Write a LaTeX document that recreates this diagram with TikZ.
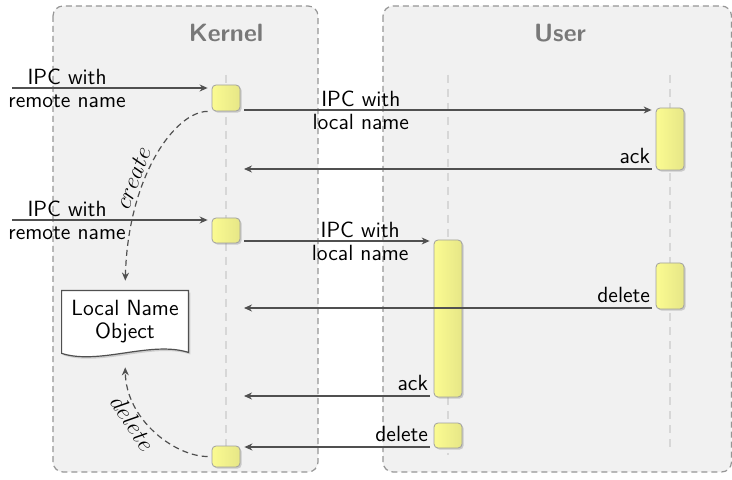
\documentclass[tikz,border=0pt]{standalone}
\usetikzlibrary{arrows.meta,shadows,calc}
\definecolor{lanefill}{RGB}{241,241,241}
\definecolor{laneline}{RGB}{150,150,150}
\definecolor{lanetitle}{RGB}{120,120,120}
\definecolor{lifeline}{RGB}{215,215,215}
\definecolor{msgline}{RGB}{80,80,80}
\definecolor{actleft}{RGB}{251,251,145}
\definecolor{actright}{RGB}{230,230,135}
\definecolor{actborder}{RGB}{160,160,160}
\pgfdeclarelayer{lanes}
\pgfdeclarelayer{docs}
\pgfsetlayers{lanes,docs,main}
\begin{document}
\begin{tikzpicture}[x=0.5pt,y=0.5pt,
  font=\sffamily\fontsize{11}{11.5}\selectfont,
  lane/.style={fill=lanefill, draw=laneline, dash pattern=on 3pt off 2pt,
    line width=0.6pt, rounded corners=5pt},
  lanetitle/.style={font=\sffamily\bfseries\fontsize{12.5}{14}\selectfont,
    text=lanetitle},
  lifeline/.style={draw=lifeline, line width=0.8pt, dash pattern=on 4pt off 3pt},
  act/.style={draw=actborder, line width=0.4pt, rounded corners=2pt,
    left color=actleft, right color=actright, minimum width=14pt, inner sep=0pt,
    drop shadow={shadow xshift=0.8pt, shadow yshift=-0.8pt, opacity=0.35}},
  msg/.style={draw=msgline, line width=0.6pt,
    -{Stealth[length=4pt,width=3.5pt]}, shorten >=2pt, shorten <=2pt},
  msglabel/.style={align=center, inner sep=0pt},
  endlabel/.style={pos=0, anchor=south east, inner sep=2.5pt},
  note/.style={draw=msgline, line width=0.6pt, dash pattern=on 3pt off 2pt,
    -{Stealth[length=4pt,width=3.5pt]}},
  notelabel/.style={font=\fontsize{11.5}{12}\selectfont, sloped, inner sep=2pt},
  docnode/.style={align=center, minimum width=63pt, minimum height=31pt, inner sep=0pt},
  docshape/.style={fill=white, draw=msgline, line width=0.6pt,
    drop shadow={shadow xshift=1pt, shadow yshift=-1pt, opacity=0.3}},
]
\useasboundingbox (0,0) rectangle (732,-480);

% swim lanes
\begin{pgfonlayer}{lanes}
  \draw[lane] (53,-6) rectangle (318,-472);
  \draw[lane] (383,-6) rectangle (731.5,-472);
\end{pgfonlayer}
\node[lanetitle] (kernelT) at (226,-33) {Kernel};
\node[lanetitle] (userT) at (560,-33) {User};

% activation boxes
\node[act, minimum height=13pt]   (K1) at (226,-98)   {};
\node[act, minimum height=12.5pt] (K2) at (226,-230.5) {};
\node[act, minimum height=10.5pt] (K3) at (226,-456.5) {};
\node[act, minimum height=31pt]   (U1) at (670,-139)  {};
\node[act, minimum height=78.5pt] (U2) at (448,-318.5) {};
\node[act, minimum height=23pt]   (U3) at (670,-286)  {};
\node[act, minimum height=12.5pt] (U4) at (448,-435.5) {};

% lifelines
\begin{pgfonlayer}{lanes}
  \draw[lifeline] (K1 |- 0,-75) -- (K1 |- 0,-460);
  \draw[lifeline] (U2 |- 0,-75) -- (U2 |- 0,-455);
  \draw[lifeline] (U1 |- 0,-75) -- (U1 |- 0,-450);
\end{pgfonlayer}

% local name object
\node[docnode] (obj) at (125,-322) {Local Name\\Object};
\begin{pgfonlayer}{docs}
  \path[docshape] (obj.north west) -- (obj.north east)
    -- ([yshift=0.5pt]obj.south east)
    .. controls +(-38,12) and +(38,-12) .. (obj.south west) -- cycle;
\end{pgfonlayer}

% free ends of the messages
\coordinate (src1) at (8,-88);
\coordinate (src2) at (8,-220);
\coordinate (kin1) at (240,-169);
\coordinate (kin2) at (240,-308);
\coordinate (kin3) at (240,-396);

% messages
\draw[msg] (src1) -- (K1.west |- src1)
  node[msglabel, pos=0.29] {IPC with\\remote name};
\draw[msg] (K1.east |- 0,-110) -- (U1.west |- 0,-110)
  node[msglabel, pos=0.29] {IPC with\\local name};
\draw[msg] (U1.west |- kin1) -- (kin1) node[endlabel] {ack};
\draw[msg] (src2) -- (K2.west |- src2)
  node[msglabel, pos=0.29] {IPC with\\remote name};
\draw[msg] (K2.east |- 0,-241) -- (U2.west |- 0,-241)
  node[msglabel, pos=0.62] {IPC with\\local name};
\draw[msg] (U3.west |- kin2) -- (kin2) node[endlabel] {delete};
\draw[msg] (U2.west |- kin3) -- (kin3) node[endlabel] {ack};
\draw[msg] (U4.west |- 0,-447) -- (K3.east |- 0,-447) node[endlabel] {delete};

% creation and deletion of the local name object
\draw[note, shorten >=5pt] ([xshift=-2pt]K1.south west)
  .. controls +(-32,0) and +(3,115) .. (obj.north)
  node[notelabel, pos=0.62, above] {$create$};
\draw[note, shorten >=7pt] ([xshift=-2pt]K3.west)
  .. controls +(-32,0) and +(1,-67) .. (obj.south)
  node[notelabel, pos=0.62, below] {$delete$};
\end{tikzpicture}
\end{document}
